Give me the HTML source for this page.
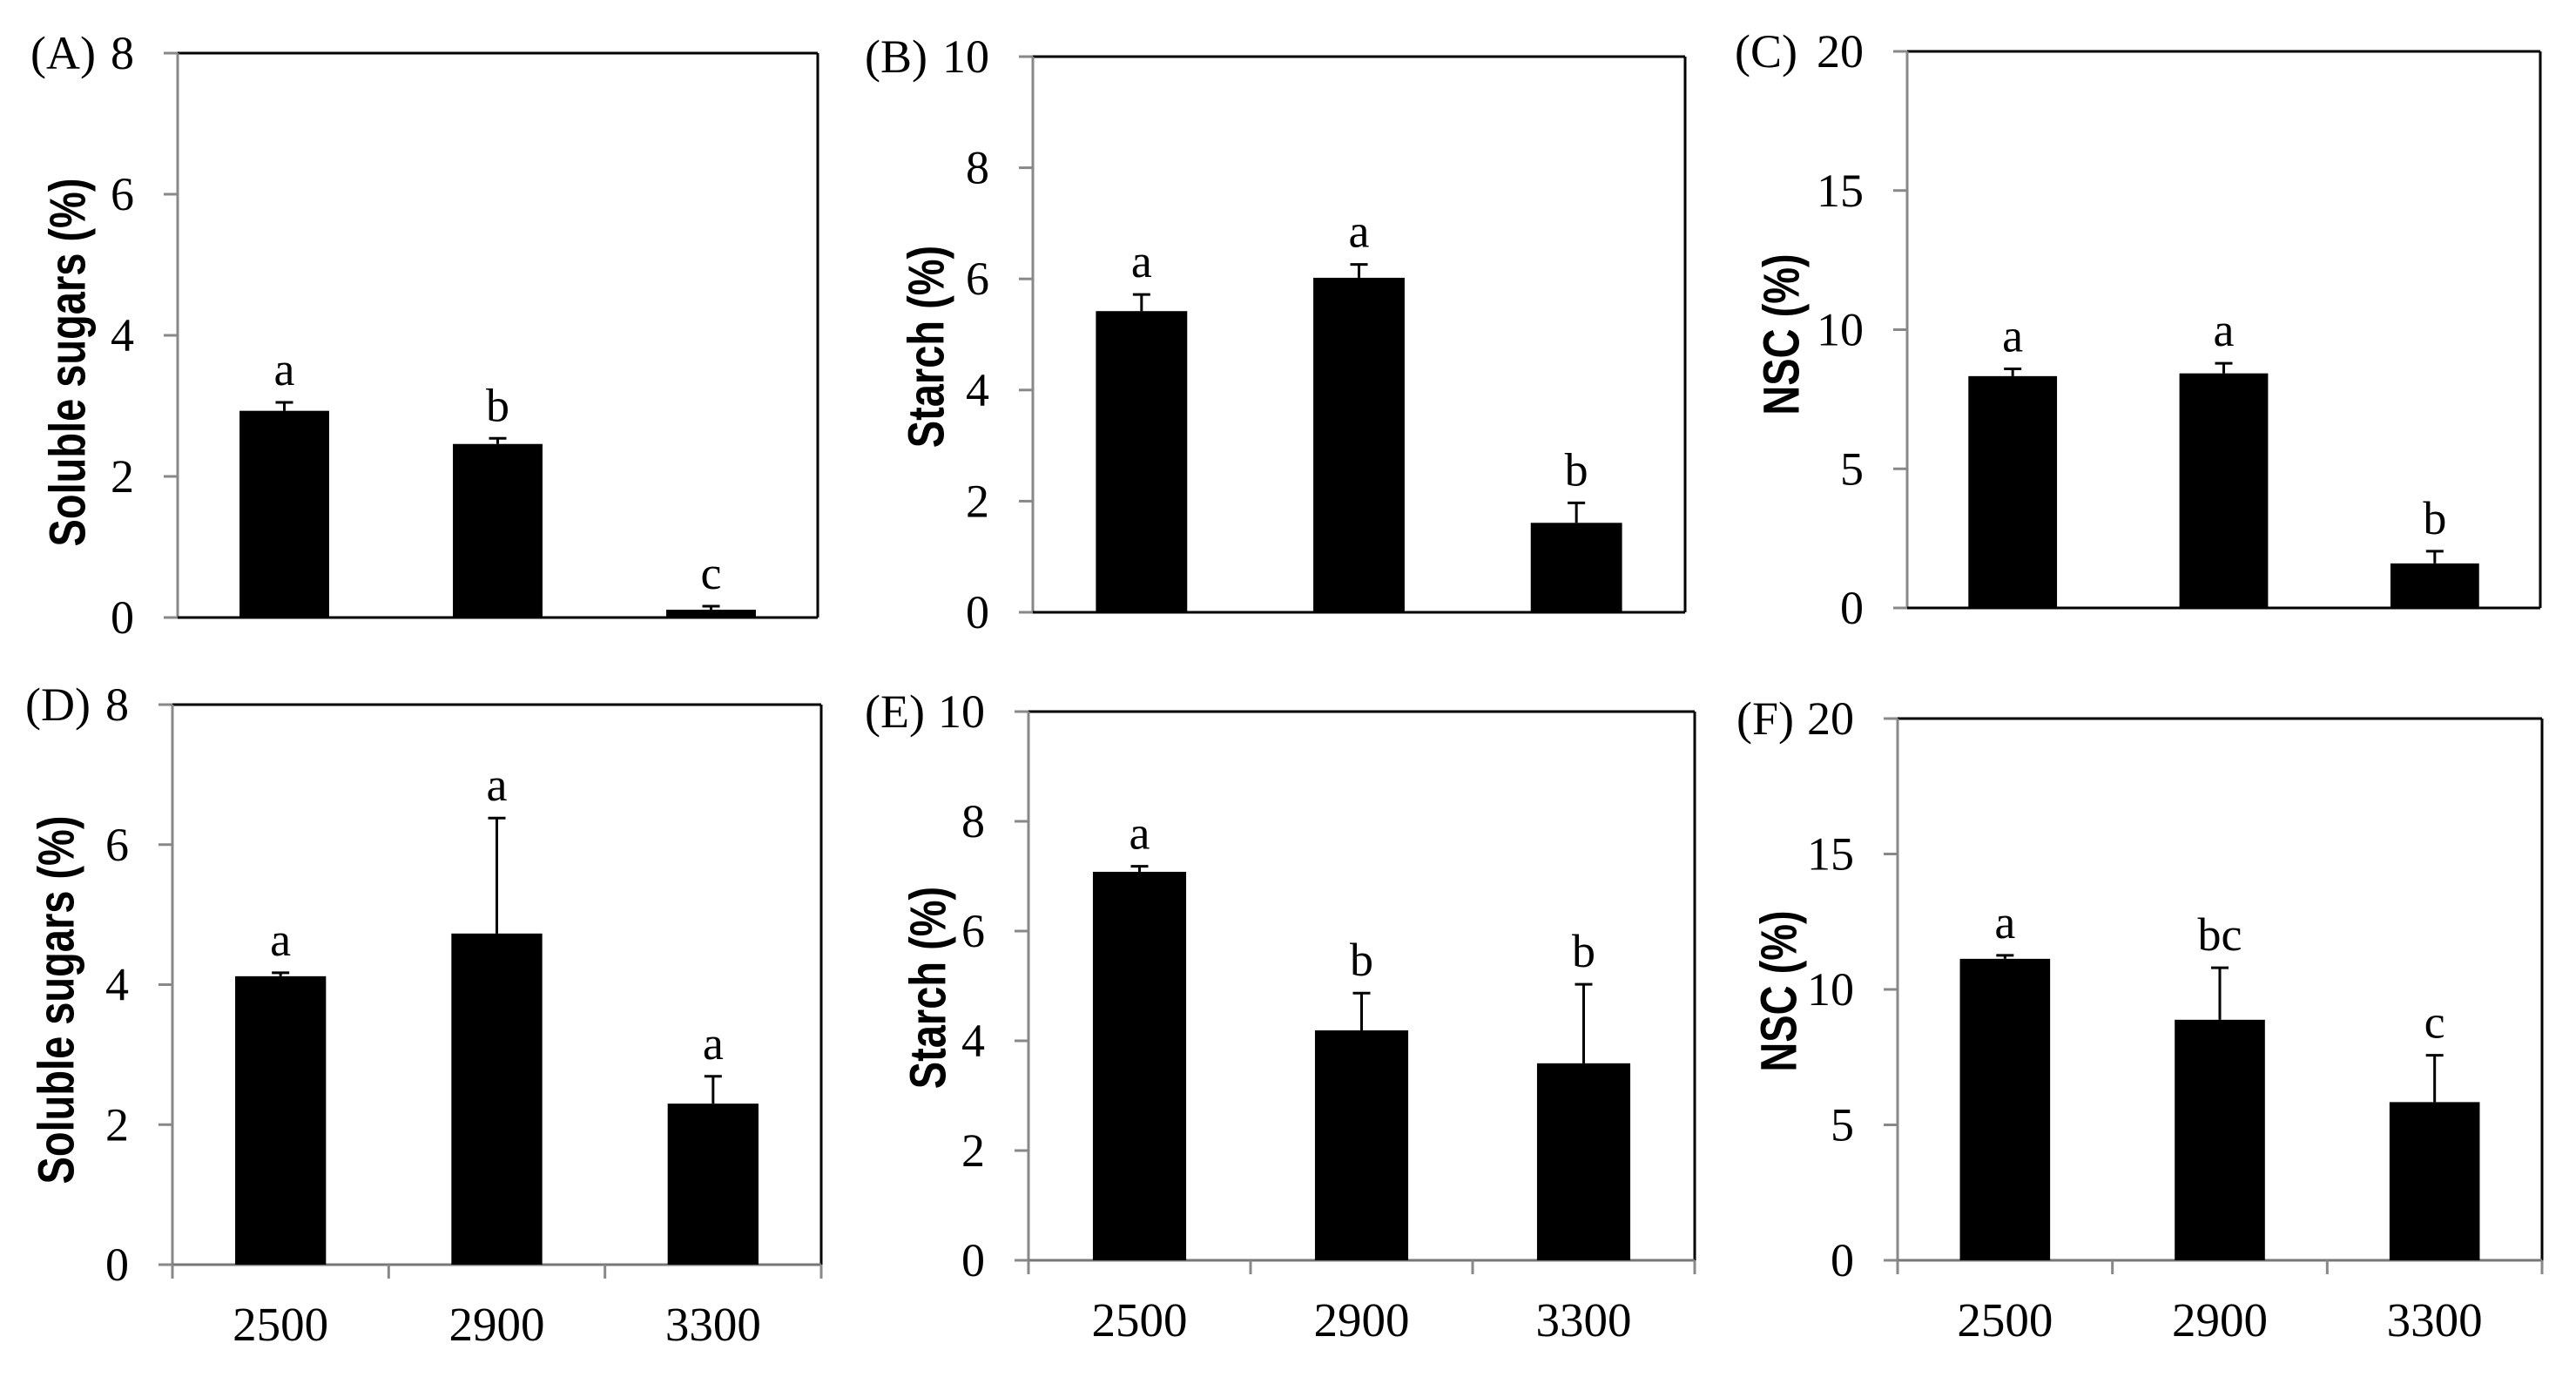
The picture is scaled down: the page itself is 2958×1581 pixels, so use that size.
<!DOCTYPE html>
<html><head><meta charset="utf-8"><style>
html,body{margin:0;padding:0;background:#fff;}
svg{display:block;}
text{font-family:"Liberation Serif",serif;fill:#000;}
.yt{font-family:"Liberation Sans",sans-serif;font-weight:bold;font-size:47px;}
</style></head><body>
<svg id="fig" width="2958" height="1581" viewBox="0 0 2958 1581" xmlns="http://www.w3.org/2000/svg"></svg>
<script>
const categories = ["2500","2900","3300"];
const valuesA = [2.93, 2.46, 0.11];
const errorsA = [0.12, 0.08, 0.05];
const lettersA = ["a","b","c"];
const valuesB = [5.42, 6.02, 1.61];
const errorsB = [0.30, 0.24, 0.36];
const lettersB = ["a","a","b"];
const valuesC = [8.33, 8.43, 1.60];
const errorsC = [0.26, 0.36, 0.44];
const lettersC = ["a","a","b"];
const valuesD = [4.12, 4.73, 2.30];
const errorsD = [0.05, 1.65, 0.39];
const lettersD = ["a","a","a"];
const valuesE = [7.08, 4.19, 3.59];
const errorsE = [0.10, 0.68, 1.44];
const lettersE = ["a","b","b"];
const valuesF = [11.13, 8.88, 5.84];
const errorsF = [0.13, 1.92, 1.73];
const lettersF = ["a","bc","c"];
const ticks8 = [0,2,4,6,8];
const ticks10 = [0,2,4,6,8,10];
const ticks20 = [0,5,10,15,20];

const NS="http://www.w3.org/2000/svg";
const svg=document.getElementById('fig');
function mk(tag,attrs,parent){const e=document.createElementNS(NS,tag);for(const k in attrs)e.setAttribute(k,attrs[k]);(parent||svg).appendChild(e);return e;}

const panels=[
 {id:'a',tag:'(A)',tagX:35,L:204,R:939,T:61,B:709,max:8,ticks:ticks8,vals:valuesA,errs:errorsA,lets:lettersA,title:'Soluble sugars (%)',tx:77,ty:416,xl:false},
 {id:'b',tag:'(B)',tagX:993,L:1186,R:1935,T:65,B:703,max:10,ticks:ticks10,vals:valuesB,errs:errorsB,lets:lettersB,title:'Starch (%)',tx:1063,ty:398,xl:false},
 {id:'c',tag:'(C)',tagX:1992,L:2190,R:2917,T:59,B:698,max:20,ticks:ticks20,vals:valuesC,errs:errorsC,lets:lettersC,title:'NSC (%)',tx:2045,ty:384,xl:false},
 {id:'d',tag:'(D)',tagX:29,L:198,R:943,T:809,B:1452,max:8,ticks:ticks8,vals:valuesD,errs:errorsD,lets:lettersD,title:'Soluble sugars (%)',tx:64,ty:1148,xl:true},
 {id:'e',tag:'(E)',tagX:993,L:1181,R:1946,T:817,B:1447,max:10,ticks:ticks10,vals:valuesE,errs:errorsE,lets:lettersE,title:'Starch (%)',tx:1065,ty:1134,xl:true},
 {id:'f',tag:'(F)',tagX:1994,L:2179,R:2919,T:825,B:1447,max:20,ticks:ticks20,vals:valuesF,errs:errorsF,lets:lettersF,title:'NSC (%)',tx:2042,ty:1138,xl:true}
];

panels.forEach(p=>{
  const g=mk('g',{});
  
  
  const y=v=>p.B-(v/p.max)*(p.B-p.T);
  const cw=(p.R-p.L)/categories.length;
  const xc=i=>p.L+cw*(i+0.5);
  const bw=cw*0.42;
  const top=mk('line',{x1:p.L,y1:p.T,x2:p.R,y2:p.T,stroke:'#000','stroke-width':3},g);
  
  
  const right=mk('line',{x1:p.R,y1:p.T,x2:p.R,y2:p.B,stroke:'#000','stroke-width':3},g);
  
  
  const yax=mk('line',{x1:p.L,y1:p.T,x2:p.L,y2:p.B,stroke:'#888','stroke-width':3},g);
  
  
  const xax=mk('line',{x1:p.L,y1:p.B,x2:p.R,y2:p.B,stroke:p.xl?'#777':'#000','stroke-width':3},g);
  
  
  p.ticks.forEach((t,i)=>{
    const ty=y(t);
    const tk=mk('line',{x1:p.L-16,y1:ty,x2:p.L,y2:ty,stroke:'#888','stroke-width':3},g);
    
    
    const tl=mk('text',{x:p.L-50,y:ty+18,'text-anchor':'end','font-size':54},g);
    tl.textContent=t;
    
    
    if(i===p.ticks.length-1){
      const pl=mk('text',{x:p.tagX,y:ty+18,'font-size':54},g);
      pl.textContent=p.tag;
      
      
    }
  });
  if(p.xl){
    for(let i=0;i<=categories.length;i++){
      const xx=p.L+cw*i;
      const xt=mk('line',{x1:xx,y1:p.B,x2:xx,y2:p.B+16,stroke:'#888','stroke-width':3},g);
      
      
    }
    categories.forEach((c,i)=>{
      const xl=mk('text',{x:xc(i),y:p.B+87,'text-anchor':'middle','font-size':55},g);
      xl.textContent=c;
      
      
    });
  }
  p.vals.forEach((v,i)=>{
    const bar=mk('rect',{x:xc(i)-bw/2,y:y(v),width:bw,height:p.B-y(v),fill:'#000'},g);
    
    
    const et=y(v+p.errs[i]);
    const el=mk('line',{x1:xc(i),y1:y(v),x2:xc(i),y2:et,stroke:'#000','stroke-width':3},g);
    
    
    const cap=mk('line',{x1:xc(i)-10,y1:et,x2:xc(i)+10,y2:et,stroke:'#000','stroke-width':3},g);
    
    
    const lt=mk('text',{x:xc(i),y:et-20,'text-anchor':'middle','font-size':54},g);
    lt.textContent=p.lets[i];
    
    
  });
  const yt=mk('text',{x:0,y:0,'text-anchor':'middle','class':'yt',transform:`translate(${p.tx} ${p.ty}) rotate(-90) scale(1 1.25)`,dy:'0.35em'},g);
  yt.textContent=p.title;
  
  
});
</script>
</body></html>
